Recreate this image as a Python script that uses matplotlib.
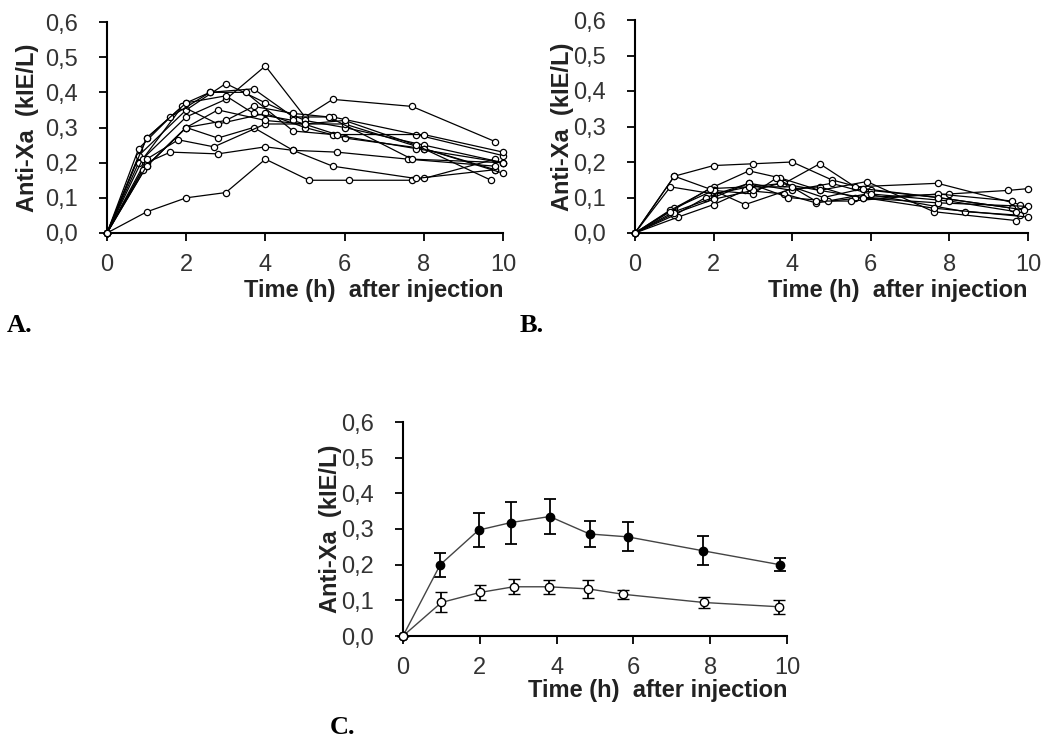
import numpy as np
import matplotlib
matplotlib.use("Agg")
import matplotlib.pyplot as plt
from matplotlib.ticker import FuncFormatter

# Panel A: individual subjects (time in h, anti-Xa in kIE/L)
a_times = [
    [0, 1, 2, 3, 4, 5.1, 6.1, 7.7, 8, 9.8],
    [0, 0.8, 2, 3, 4, 5, 5.7, 7.7, 9.8],
    [0, 1, 2, 2.6, 3.7, 4.7, 5.7, 7.8, 10],
    [0, 0.8, 2, 3, 4, 5, 6, 8, 10],
    [0, 0.9, 1.9, 2.8, 4, 5, 6, 8, 9.8],
    [0, 1, 2, 2.8, 3.7, 4.7, 5.7, 7.8, 9.8],
    [0, 1, 1.6, 2.8, 4, 4.7, 5.8, 7.6, 9.8],
    [0, 1, 1.8, 2.7, 4, 5, 6, 8, 10],
    [0, 0.8, 1.6, 2.6, 3.5, 4.7, 5.7, 7.8, 10],
    [0, 1, 2, 3, 3.7, 4.7, 5.8, 8, 10],
    [0, 0.9, 2, 2.8, 4, 5, 6, 7.8, 9.7],
    [0, 1, 2, 3, 3.7, 4.7, 5.6, 7.7, 10],
]
a_values = [
    [0, 0.06, 0.10, 0.115, 0.21, 0.15, 0.15, 0.15, 0.155, 0.21],
    [0, 0.20, 0.33, 0.38, 0.475, 0.33, 0.38, 0.36, 0.26],
    [0, 0.27, 0.37, 0.40, 0.41, 0.33, 0.33, 0.28, 0.22],
    [0, 0.22, 0.35, 0.425, 0.37, 0.32, 0.30, 0.25, 0.20],
    [0, 0.21, 0.36, 0.31, 0.34, 0.30, 0.27, 0.24, 0.18],
    [0, 0.19, 0.30, 0.27, 0.30, 0.235, 0.19, 0.155, 0.18],
    [0, 0.20, 0.23, 0.225, 0.245, 0.235, 0.23, 0.21, 0.19],
    [0, 0.21, 0.265, 0.245, 0.31, 0.31, 0.31, 0.24, 0.17],
    [0, 0.24, 0.33, 0.40, 0.40, 0.29, 0.28, 0.24, 0.20],
    [0, 0.27, 0.37, 0.39, 0.34, 0.32, 0.28, 0.28, 0.23],
    [0, 0.18, 0.30, 0.35, 0.32, 0.31, 0.32, 0.25, 0.15],
    [0, 0.19, 0.30, 0.32, 0.36, 0.34, 0.33, 0.21, 0.20],
]

# Panel B: individual subjects
b_times = [
    [0, 1, 2, 3, 4, 5, 6, 7.7, 9.6],
    [0, 0.9, 2, 2.9, 3.8, 4.7, 5.6, 7.7, 9.8],
    [0, 1, 2, 2.9, 3.7, 4.7, 5.9, 7.6, 9.7],
    [0, 1.1, 2, 2.8, 3.8, 4.6, 5.8, 8, 9.5, 10],
    [0, 0.9, 2, 2.8, 4, 4.7, 5.6, 7.7, 10],
    [0, 1, 1.8, 2.9, 3.9, 4.9, 5.9, 8.4, 9.8],
    [0, 1, 2, 3, 3.6, 4.6, 5.5, 7.7, 9.6],
    [0, 1, 2, 2.9, 4, 5, 6, 8, 9.7],
    [0, 1, 2, 3, 3.7, 4.7, 5.8, 7.6, 10],
    [0, 0.9, 1.9, 2.9, 4, 4.8, 5.8, 7.7, 9.9],
]
b_values = [
    [0, 0.16, 0.19, 0.195, 0.20, 0.15, 0.12, 0.10, 0.07],
    [0, 0.13, 0.11, 0.13, 0.14, 0.195, 0.13, 0.14, 0.08],
    [0, 0.07, 0.13, 0.175, 0.155, 0.12, 0.145, 0.06, 0.035],
    [0, 0.045, 0.08, 0.12, 0.11, 0.085, 0.10, 0.11, 0.12, 0.125],
    [0, 0.065, 0.12, 0.08, 0.125, 0.13, 0.10, 0.085, 0.075],
    [0, 0.05, 0.10, 0.14, 0.10, 0.09, 0.11, 0.06, 0.05],
    [0, 0.16, 0.12, 0.11, 0.155, 0.09, 0.09, 0.11, 0.09],
    [0, 0.06, 0.10, 0.14, 0.12, 0.14, 0.11, 0.09, 0.06],
    [0, 0.055, 0.095, 0.12, 0.14, 0.12, 0.10, 0.07, 0.045],
    [0, 0.06, 0.125, 0.13, 0.13, 0.10, 0.125, 0.10, 0.065],
]

# Panel C: mean +/- SD
c_high_t = [0, 0.97, 1.97, 2.81, 3.82, 4.86, 5.85, 7.81, 9.81]
c_high_y = [0, 0.20, 0.297, 0.318, 0.335, 0.286, 0.278, 0.239, 0.200]
c_high_err = [0, 0.034, 0.048, 0.059, 0.048, 0.036, 0.041, 0.040, 0.018]
c_low_t = [0, 1.0, 2.0, 2.88, 3.8, 4.83, 5.73, 7.83, 9.79]
c_low_y = [0, 0.094, 0.122, 0.138, 0.138, 0.132, 0.117, 0.094, 0.082]
c_low_err = [0, 0.028, 0.022, 0.021, 0.020, 0.025, 0.012, 0.016, 0.019]

x_ticks = [0, 2, 4, 6, 8, 10]
y_ticks = [0.0, 0.1, 0.2, 0.3, 0.4, 0.5, 0.6]

W, H = 1053, 740
fig = plt.figure(figsize=(W / 100, H / 100), dpi=100)
plt.rcParams["font.family"] = ["Liberation Sans", "DejaVu Sans"]


def px_axes(left, top, right, bottom):
    return fig.add_axes([left / W, 1 - bottom / H, (right - left) / W, (bottom - top) / H])


def style(ax):
    ax.set_xlim(0, 10)
    ax.set_ylim(0, 0.6)
    ax.set_xticks(x_ticks)
    ax.set_yticks(y_ticks)
    ax.yaxis.set_major_formatter(FuncFormatter(lambda v, p: f"{v:.1f}".replace(".", ",")))
    for s in ["top", "right"]:
        ax.spines[s].set_visible(False)
    for s in ["left", "bottom"]:
        ax.spines[s].set_linewidth(1.5)
    ax.tick_params(direction="out", length=6, width=1.3, labelsize=17,
                   labelcolor="#333333", color="black")
    ax.tick_params(axis="y", pad=15)
    ax.tick_params(axis="x", pad=9)


def labels(ax_top, ax_right, ax_bottom, ylab_x, xlab_y):
    fig.text(ylab_x / W, 1 - (ax_top + ax_bottom) / 2 / H, "Anti-Xa  (kIE/L)",
             rotation=90, ha="center", va="center", fontsize=17, fontweight="bold",
             color="#222222")
    fig.text(ax_right / W, 1 - xlab_y / H, "Time (h)  after injection",
             ha="right", va="center", fontsize=17, fontweight="bold", color="#222222")


def plot_subjects(ax, times, values):
    for t, v in zip(times, values):
        ax.plot(t, v, color="black", lw=0.9, marker="o", ms=4.5, mfc="white",
                mec="black", mew=0.9, clip_on=False, zorder=3)


axA = px_axes(107, 22, 503, 233)
style(axA)
plot_subjects(axA, a_times, a_values)
labels(22, 503, 233, 28, 290)

axB = px_axes(635, 20, 1028, 233)
style(axB)
plot_subjects(axB, b_times, b_values)
labels(20, 1028, 233, 562, 290)

axC = px_axes(403, 422, 787, 636)
style(axC)
axC.errorbar(c_high_t, c_high_y, yerr=c_high_err, color="#444444", lw=1.0,
             ecolor="black", elinewidth=1.3, capsize=4, capthick=1.3,
             marker="o", ms=6, mfc="black", mec="black", clip_on=False, zorder=3)
axC.errorbar(c_low_t, c_low_y, yerr=c_low_err, color="#444444", lw=1.0,
             ecolor="black", elinewidth=1.3, capsize=4, capthick=1.3,
             marker="o", ms=6, mfc="white", mec="black", mew=1.0, clip_on=False, zorder=3)
axC.plot([0], [0], marker="o", ms=6, mfc="white", mec="black", clip_on=False, zorder=4)
labels(422, 787, 636, 330, 690)

for x, y, s in [(7, 326, "A."), (520, 326, "B."), (330, 727, "C.")]:
    fig.text(x / W, 1 - y / H, s, ha="left", va="center", fontsize=19,
             fontweight="bold", family=["Liberation Serif", "DejaVu Serif"])

fig.savefig("out.png", dpi=100)
